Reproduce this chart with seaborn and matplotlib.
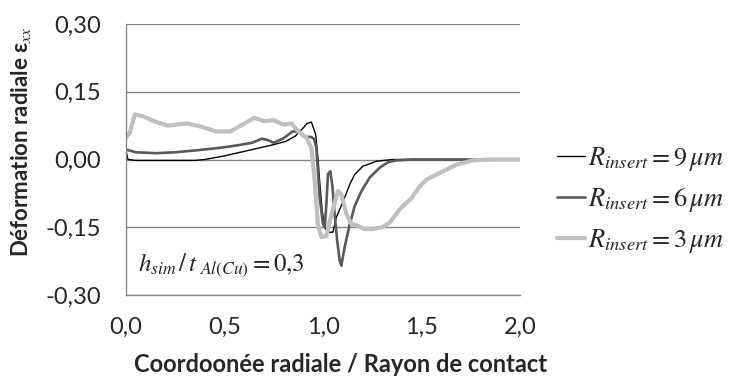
import numpy as np
import pandas as pd
import seaborn as sns
import matplotlib.pyplot as plt

# Rayon de l'insert 9 um
x_r9 = [0, 0.01, 0.05, 0.2, 0.35, 0.4, 0.5, 0.64, 0.75, 0.81, 0.86, 0.90, 0.92, 0.941,
        0.963, 0.975, 0.983, 0.995, 1.009, 1.025, 1.05, 1.068, 1.09, 1.11, 1.136, 1.161,
        1.202, 1.27, 1.35, 1.5, 2.0]
y_r9 = [0.02, 0.0, -0.002, -0.002, -0.002, 0.0, 0.008, 0.022, 0.033, 0.04, 0.052, 0.070, 0.080, 0.083,
        0.055, 0.0, -0.048, -0.11, -0.15, -0.161, -0.161, -0.128, -0.105, -0.084, -0.055, -0.033,
        -0.015, -0.004, 0.0, 0.0, 0.0]

# Rayon de l'insert 6 um
x_r6 = [0, 0.05, 0.15, 0.25, 0.35, 0.48, 0.56, 0.64, 0.69, 0.72, 0.75, 0.80, 0.845, 0.88,
        0.91, 0.94, 0.955, 0.966, 0.975, 0.983, 1.0, 1.009, 1.017, 1.025, 1.037, 1.048, 1.059,
        1.072, 1.085, 1.093, 1.11, 1.136, 1.161, 1.195, 1.237, 1.288, 1.33, 1.37, 1.45, 2.0]
y_r6 = [0.022, 0.016, 0.014, 0.016, 0.02, 0.026, 0.031, 0.037, 0.046, 0.043, 0.037, 0.047, 0.062, 0.062,
        0.05, 0.05, 0.045, 0.026, -0.03, -0.084, -0.143, -0.15, -0.10, -0.033, -0.026, -0.06, -0.121,
        -0.18, -0.224, -0.235, -0.194, -0.143, -0.103, -0.07, -0.04, -0.018, -0.006, -0.002, 0.0, 0.0]

# Rayon de l'insert 3 um
x_r3 = [0, 0.02, 0.045, 0.09, 0.14, 0.21, 0.31, 0.37, 0.46, 0.53, 0.59, 0.65, 0.70, 0.75,
        0.80, 0.84, 0.88, 0.916, 0.941, 0.958, 0.974, 0.992, 1.017, 1.043, 1.076, 1.093, 1.119,
        1.144, 1.177, 1.21, 1.25, 1.30, 1.34, 1.39, 1.45, 1.49, 1.527, 1.61, 1.68, 1.76, 1.85, 2.0]
y_r3 = [0.048, 0.06, 0.10, 0.095, 0.085, 0.075, 0.08, 0.074, 0.062, 0.062, 0.077, 0.092, 0.085, 0.087,
        0.077, 0.08, 0.06, 0.048, 0.026, -0.048, -0.143, -0.172, -0.169, -0.121, -0.07, -0.077, -0.121,
        -0.143, -0.147, -0.154, -0.154, -0.15, -0.139, -0.11, -0.085, -0.06, -0.044, -0.026, -0.011,
        -0.002, 0.0, 0.0]

labels = [r'$R_{insert}=9\,\mu m$', r'$R_{insert}=6\,\mu m$', r'$R_{insert}=3\,\mu m$']
couleurs = ['#000000', '#595959', '#bfbfbf']
epaisseurs = [1.0, 1.9, 3.0]

xticks = [0.0, 0.5, 1.0, 1.5, 2.0]
yticks = [-0.30, -0.15, 0.0, 0.15, 0.30]

sns.set_style('white')
plt.rcParams['font.family'] = ['Lato', 'DejaVu Sans']
plt.rcParams['mathtext.fontset'] = 'stix'

fig = plt.figure(figsize=(7.35, 3.83), dpi=100)
ax = fig.add_axes([126 / 735, 1 - 295 / 383, (520 - 126) / 735, (295 - 24) / 383])

for xs, ys, lab, c, lw in zip([x_r9, x_r6, x_r3], [y_r9, y_r6, y_r3], labels, couleurs, epaisseurs):
    df = pd.DataFrame({'x': xs, 'y': ys})
    sns.lineplot(data=df, x='x', y='y', ax=ax, color=c, lw=lw, label=lab, sort=False,
                 solid_joinstyle='round', solid_capstyle='round')

ax.set_xlim(0, 2)
ax.set_ylim(-0.30, 0.30)
ax.set_xticks(xticks)
ax.set_yticks(yticks)
ax.set_xticklabels([f'{v:.1f}'.replace('.', ',') for v in xticks])
ax.set_yticklabels([f'{v:.2f}'.replace('.', ',') for v in yticks])
ax.yaxis.grid(True, color='#868686', lw=1.0)
ax.xaxis.grid(False)
for s in ['top', 'right']:
    ax.spines[s].set_visible(False)
for s in ['left', 'bottom']:
    ax.spines[s].set_color('#868686')
    ax.spines[s].set_linewidth(1.0)
ax.tick_params(axis='x', direction='out', length=6, width=1, color='#868686', pad=10, labelsize=17)
ax.tick_params(axis='y', direction='out', length=4, width=1, color='#868686', pad=14, labelsize=17)
ax.set_axisbelow(True)

ax.set_xlabel('Coordoonée radiale / Rayon de contact', fontsize=17, fontweight='bold')
ax.xaxis.set_label_coords(0.545, -0.215)
ax.set_ylabel(r'Déformation radiale ε$_{xx}$', fontsize=16, fontweight='bold')
ax.yaxis.set_label_coords(-0.235, 0.565)

ax.text(0.03, 0.09, r'$h_{sim}\,/\,t_{\ Al(Cu)}=0{,}3$', transform=ax.transAxes, fontsize=18)

ax.get_legend().remove()
h, l = ax.get_legend_handles_labels()
fig.legend(h, l, loc='center left', bbox_to_anchor=(557 / 735, 1 - 200 / 383), frameon=False,
           fontsize=19, handlelength=1.05, handletextpad=0.12, labelspacing=0.5,
           borderpad=0, borderaxespad=0)

fig.savefig('out.png', dpi=100)
